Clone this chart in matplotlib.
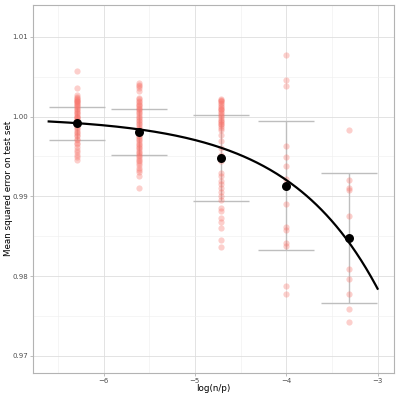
import numpy as np
import matplotlib
matplotlib.use("Agg")
from matplotlib import pyplot as plt
from matplotlib.ticker import MultipleLocator

# group positions on log(n/p)
group_x = [-6.29, -5.61, -4.71, -4.0, -3.31]

# test-set errors of each run, per group
g1 = [1.0057, 1.0036, 1.0027, 1.0025, 1.0023, 1.0022, 1.0021, 1.0020, 1.0019, 1.0018,
      1.0017, 1.0016, 1.0015, 1.0013, 1.0012, 1.0010, 1.0009, 1.0007, 1.0006, 1.0004,
      1.0003, 1.0001, 1.0000, 0.9999, 0.9998, 0.9996, 0.9995, 0.9993, 0.9992, 0.9990,
      0.9989, 0.9987, 0.9985, 0.9983, 0.9981, 0.9979, 0.9977, 0.9975, 0.9972, 0.9970,
      0.9967, 0.9965, 0.9962, 0.9958, 0.9955, 0.9952, 0.9949, 0.9946]
g2 = [1.0042, 1.0040, 1.0038, 1.0036, 1.0032, 1.0023, 1.0022, 1.0020, 1.0018, 1.0016,
      1.0015, 1.0013, 1.0011, 1.0010, 1.0008, 1.0006, 1.0004, 1.0002, 1.0000, 0.9998,
      0.9996, 0.9994, 0.9992, 0.9990, 0.9988, 0.9986, 0.9984, 0.9982, 0.9980, 0.9978,
      0.9976, 0.9974, 0.9972, 0.9970, 0.9968, 0.9966, 0.9964, 0.9962, 0.9960, 0.9958,
      0.9956, 0.9954, 0.9952, 0.9950, 0.9948, 0.9946, 0.9944, 0.9942, 0.9939, 0.9936,
      0.9933, 0.9930, 0.9925, 0.9911]
g3 = [1.0022, 1.0021, 1.0020, 1.0019, 1.0017, 1.0016, 1.0013, 1.0012, 1.0010, 1.0009,
      1.0008, 1.0006, 1.0004, 1.0002, 1.0001, 0.9998, 0.9996, 0.9994, 0.9993, 0.9991,
      0.9990, 0.9988, 0.9985, 0.9983, 0.9977, 0.9969, 0.9961, 0.9952, 0.9944, 0.9929,
      0.9926, 0.9919, 0.9915, 0.9911, 0.9906, 0.9900, 0.9895, 0.9885, 0.9881, 0.9873,
      0.9868, 0.9860, 0.9845, 0.9837]
g4 = [1.0077, 1.0046, 1.0038, 0.9963, 0.9949, 0.9938, 0.9922, 0.9915, 0.9890, 0.9861,
      0.9858, 0.9842, 0.9838, 0.9788, 0.9778]
g5 = [0.9983, 0.9920, 0.9911, 0.9908, 0.9875, 0.9809, 0.9797, 0.9778, 0.9759, 0.9743]
groups = [g1, g2, g3, g4, g5]

# summary per group
means = [0.99917, 0.9980, 0.9948, 0.99134, 0.9848]
upper = [1.00125, 1.0010, 1.00017, 0.99942, 0.99292]
lower = [0.99705, 0.99518, 0.98946, 0.98321, 0.97666]

# fitted curve: err = a - b * exp(log(n/p))
fit_a = 0.99997
fit_b = 0.4328
fit_range = (-6.6, -3.0)

fig = plt.figure(figsize=(3.99, 3.99), dpi=100)
ax = fig.add_axes([0.082, 0.066, 0.906, 0.922])

gx = np.array(group_x)
ax.errorbar(gx, means, yerr=[np.array(means) - np.array(lower), np.array(upper) - np.array(means)],
            fmt='none', ecolor='#bebebe', elinewidth=1.0, capsize=20, capthick=1.0, zorder=2)

for x, vals in zip(group_x, groups):
    ax.scatter([x] * len(vals), vals, s=20, color='#F8766D', alpha=0.35, linewidths=0, zorder=3)

ax.scatter(gx, means, s=42, color='black', zorder=4, linewidths=0)

xs = np.linspace(fit_range[0], fit_range[1], 200)
ax.plot(xs, fit_a - fit_b * np.exp(xs), color='black', lw=1.6, zorder=5)

ax.set_xlim(-6.775, -2.818)
ax.set_ylim(0.9679, 1.0140)
ax.xaxis.set_minor_locator(MultipleLocator(0.5))
ax.yaxis.set_minor_locator(MultipleLocator(0.005))
ax.set_xticks([-6, -5, -4, -3])
ax.set_xticklabels(['\u22126', '\u22125', '\u22124', '\u22123'])
ax.set_yticks([0.97, 0.98, 0.99, 1.00, 1.01])
ax.set_yticklabels(['0.97', '0.98', '0.99', '1.00', '1.01'])

ax.grid(True, which='major', color='#dedede', lw=0.6)
ax.grid(True, which='minor', color='#eeeeee', lw=0.4)
ax.set_axisbelow(True)
for s in ax.spines.values():
    s.set_color('#b3b3b3')
    s.set_linewidth(0.8)
ax.tick_params(which='major', colors='#b3b3b3', labelcolor='#4d4d4d', labelsize=5, length=2, width=0.6, pad=1.5)
ax.tick_params(which='minor', length=0)

ax.set_xlabel('log(n/p)', fontsize=6.3, va='center')
ax.set_ylabel('Mean squared error on test set', fontsize=6.3, va='center')
ax.xaxis.set_label_coords(0.5, -0.044)
ax.yaxis.set_label_coords(-0.068, 0.5)

fig.savefig('out.png', dpi=100)
